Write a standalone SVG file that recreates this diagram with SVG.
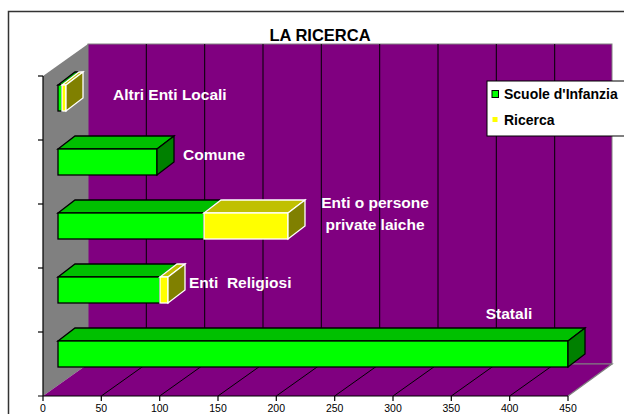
<svg xmlns="http://www.w3.org/2000/svg" width="624" height="414" viewBox="0 0 624 414">
<style>
.lbl{font-family:"Liberation Sans",Arial,sans-serif;font-weight:bold;font-size:15.5px;fill:#fff}
.ax{font-family:"Liberation Sans",Arial,sans-serif;font-size:10.5px;fill:#000;text-anchor:middle}
.lg{font-family:"Liberation Sans",Arial,sans-serif;font-weight:bold;font-size:14px;fill:#000}
.gf{fill:#00ff00;stroke:#000;stroke-width:1.3}
.gt{fill:#00c000;stroke:#000;stroke-width:1.3}
.gs{fill:#008000;stroke:#000;stroke-width:1.3}
.yf{fill:#ffff00;stroke:#fff;stroke-width:1.3}
.yt{fill:#c0c000;stroke:#fff;stroke-width:1.3}
.ys{fill:#808000;stroke:#fff;stroke-width:1.3}
.grid{stroke:#000;stroke-width:1}
</style>
<rect x="0" y="0" width="624" height="414" fill="#fff"/>
<rect x="8.5" y="11.5" width="630" height="420" fill="#fff" stroke="#333" stroke-width="1.5"/>
<text x="320" y="41" font-family="Liberation Sans,Arial,sans-serif" font-weight="bold" font-size="16.5" text-anchor="middle">LA RICERCA</text>
<g id="walls">
<polygon points="43,76 88,44 88,364 43,396" fill="#808080"/>
<rect x="88" y="44" width="524" height="320" fill="#800080" stroke="#808080" stroke-width="1"/>
<polygon points="43,396 88,364 612,364 568,396" fill="#800080"/>
<polyline points="88,364 612,364 568,396" fill="none" stroke="#808080" stroke-width="1.2"/>
</g>
<g id="gridlines" class="grid">
<line x1="146.3" y1="44" x2="146.3" y2="364"/>
<line x1="204.7" y1="44" x2="204.7" y2="364"/>
<line x1="263" y1="44" x2="263" y2="364"/>
<line x1="321.3" y1="44" x2="321.3" y2="364"/>
<line x1="379.7" y1="44" x2="379.7" y2="364"/>
<line x1="438" y1="44" x2="438" y2="364"/>
<line x1="496.3" y1="44" x2="496.3" y2="364"/>
<line x1="554.7" y1="44" x2="554.7" y2="364"/>
<line x1="101.3" y1="396" x2="146.3" y2="364"/>
<line x1="159.7" y1="396" x2="204.7" y2="364"/>
<line x1="218" y1="396" x2="263" y2="364"/>
<line x1="276.3" y1="396" x2="321.3" y2="364"/>
<line x1="334.7" y1="396" x2="379.7" y2="364"/>
<line x1="393" y1="396" x2="438" y2="364"/>
<line x1="451.3" y1="396" x2="496.3" y2="364"/>
<line x1="509.7" y1="396" x2="554.7" y2="364"/>
</g>
<g id="axes" stroke="#000" stroke-width="1.2">
<line x1="43" y1="76" x2="43" y2="396"/>
<line x1="38" y1="76" x2="43" y2="76"/>
<line x1="38" y1="140" x2="43" y2="140"/>
<line x1="38" y1="204" x2="43" y2="204"/>
<line x1="38" y1="268" x2="43" y2="268"/>
<line x1="38" y1="332" x2="43" y2="332"/>
<line x1="38" y1="396" x2="568" y2="396"/>
<line x1="43" y1="396" x2="43" y2="401"/>
<line x1="101.3" y1="396" x2="101.3" y2="401"/>
<line x1="159.7" y1="396" x2="159.7" y2="401"/>
<line x1="218" y1="396" x2="218" y2="401"/>
<line x1="276.3" y1="396" x2="276.3" y2="401"/>
<line x1="334.7" y1="396" x2="334.7" y2="401"/>
<line x1="393" y1="396" x2="393" y2="401"/>
<line x1="451.3" y1="396" x2="451.3" y2="401"/>
<line x1="509.7" y1="396" x2="509.7" y2="401"/>
<line x1="568" y1="396" x2="568" y2="401"/>
</g>
<g id="axis-labels">
<text class="ax" x="43" y="412">0</text>
<text class="ax" x="101.3" y="412">50</text>
<text class="ax" x="159.7" y="412">100</text>
<text class="ax" x="218" y="412">150</text>
<text class="ax" x="276.3" y="412">200</text>
<text class="ax" x="334.7" y="412">250</text>
<text class="ax" x="393" y="412">300</text>
<text class="ax" x="451.3" y="412">350</text>
<text class="ax" x="509.7" y="412">400</text>
<text class="ax" x="568" y="412">450</text>
</g>
<g id="bar-altri">
<polygon class="gt" points="58,85 75,72 79,72 62,85"/>
<rect class="gf" x="58" y="85" width="4" height="26"/>
<polygon class="yt" points="62,85 79,72 83,72 66,85"/>
<rect class="yf" x="62" y="85" width="4" height="26"/>
<polygon class="ys" points="66,85 83,72 83,98 66,111"/>
<text class="lbl" x="113" y="100">Altri Enti Locali</text>
</g>
<g id="bar-comune">
<polygon class="gt" points="58,149 75,136 174,136 157,149"/>
<rect class="gf" x="58" y="149" width="99" height="26"/>
<polygon class="gs" points="157,149 174,136 174,162 157,175"/>
<text class="lbl" x="183" y="160">Comune</text>
</g>
<g id="bar-private">
<polygon class="gt" points="58,213 75,200 221,200 204,213"/>
<rect class="gf" x="58" y="213" width="146" height="26"/>
<polygon class="yt" points="204,213 221,200 305,200 288,213"/>
<rect class="yf" x="204" y="213" width="84" height="26"/>
<polygon class="ys" points="288,213 305,200 305,226 288,239"/>
<text class="lbl" x="375" y="208" text-anchor="middle">Enti o persone</text>
<text class="lbl" x="375" y="230" text-anchor="middle">private laiche</text>
</g>
<g id="bar-religiosi">
<polygon class="gt" points="58,277 75,264 177,264 160,277"/>
<rect class="gf" x="58" y="277" width="102" height="26"/>
<polygon class="yt" points="160,277 177,264 185,264 168,277"/>
<rect class="yf" x="160" y="277" width="8" height="26"/>
<polygon class="ys" points="168,277 185,264 185,290 168,303"/>
<text class="lbl" x="189" y="288" xml:space="preserve" style="white-space:pre">Enti  Religiosi</text>
</g>
<g id="bar-statali">
<polygon class="gt" points="58,341 75,328 585,328 568,341"/>
<rect class="gf" x="58" y="341" width="510" height="26"/>
<polygon class="gs" points="568,341 585,328 585,354 568,367"/>
<text class="lbl" x="509" y="319" text-anchor="middle">Statali</text>
</g>
<g id="legend">
<rect x="487" y="81" width="150" height="55" fill="#fff" stroke="#000" stroke-width="1"/>
<rect x="492" y="90.5" width="6.5" height="7" fill="#00ff00" stroke="#000" stroke-width="1"/>
<text class="lg" x="504" y="99">Scuole d'Infanzia</text>
<rect x="492.5" y="117" width="5" height="5" fill="#ffff00"/>
<text class="lg" x="504" y="125">Ricerca</text>
</g>
</svg>
